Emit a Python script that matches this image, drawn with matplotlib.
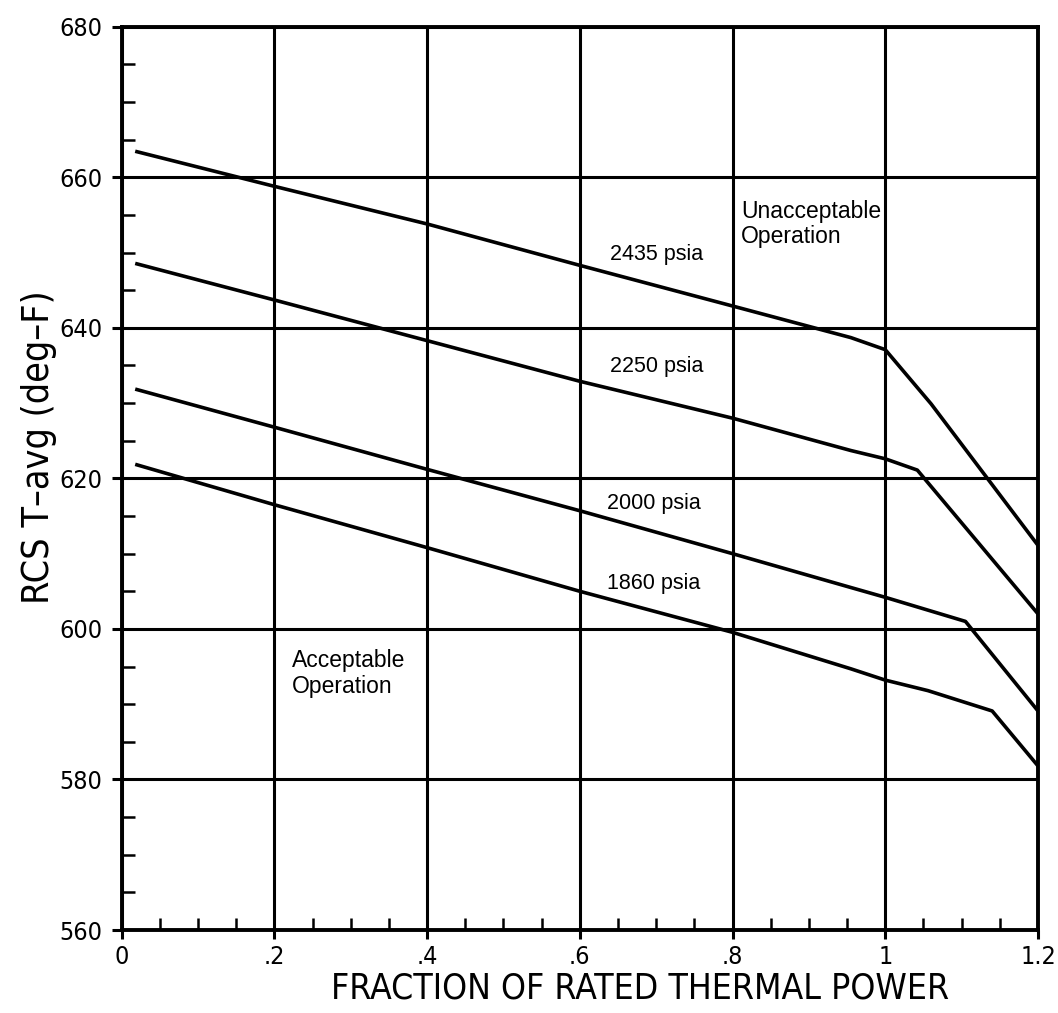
import matplotlib
matplotlib.use("Agg")
import numpy as np
from matplotlib import pyplot as plt
from matplotlib.ticker import MultipleLocator, FuncFormatter

# curves: fraction of rated power vs T-avg (deg F)
x_2435 = [0.02, 0.2, 0.4, 0.6, 0.8, 0.955, 1.0, 1.06, 1.2]
y_2435 = [663.4, 658.8, 653.8, 648.3, 642.9, 638.7, 637.1, 629.9, 611.1]

x_2250 = [0.02, 0.2, 0.4, 0.6, 0.8, 0.955, 1.0, 1.042, 1.2]
y_2250 = [648.5, 643.7, 638.3, 632.9, 628.0, 623.7, 622.6, 621.1, 602.0]

x_2000 = [0.02, 0.2, 0.4, 0.6, 0.8, 0.955, 1.0, 1.105, 1.2]
y_2000 = [631.8, 626.8, 621.2, 615.7, 610.0, 605.5, 604.2, 601.0, 589.1]

x_1860 = [0.02, 0.2, 0.4, 0.6, 0.8, 0.955, 1.0, 1.056, 1.14, 1.2]
y_1860 = [621.8, 616.5, 610.8, 605.0, 599.55, 594.7, 593.2, 591.8, 589.1, 581.8]

curve_labels = ['2435 psia', '2250 psia', '2000 psia', '1860 psia']
label_x = [0.70, 0.70, 0.697, 0.696]
label_y = [649.7, 634.8, 616.6, 606.0]

cond = ['DejaVu Sans']
plain = ['Liberation Sans', 'DejaVu Sans']

fig = plt.figure(figsize=(10.58, 10.13), dpi=100)
ax = fig.add_axes([0.115, 0.0819, 0.8661, 0.8917])

for xs, ys in [(x_2435, y_2435), (x_2250, y_2250), (x_2000, y_2000), (x_1860, y_1860)]:
    ax.plot(xs, ys, color='black', lw=2.6, solid_joinstyle='round', zorder=3)

ax.set_xlim(0, 1.2)
ax.set_ylim(560, 680)

ax.xaxis.set_major_locator(MultipleLocator(0.2))
ax.xaxis.set_minor_locator(MultipleLocator(0.05))
ax.yaxis.set_major_locator(MultipleLocator(20))
ax.yaxis.set_minor_locator(MultipleLocator(5))


def frac_fmt(v, pos):
    s = '%g' % round(v, 2)
    if s.startswith('0.'):
        s = s[1:]
    return s


ax.xaxis.set_major_formatter(FuncFormatter(frac_fmt))

ax.grid(True, which='major', color='black', lw=2.2)
ax.tick_params(axis='x', which='major', direction='out', length=6.5, width=2.2, pad=4)
ax.tick_params(axis='y', which='major', direction='out', length=7, width=2.2, pad=7)
ax.tick_params(which='minor', direction='in', length=9, width=1.8)
for lab in ax.get_xticklabels() + ax.get_yticklabels():
    lab.set_family(cond)
    lab.set_stretch('condensed')
    lab.set_fontsize(18)

for side in ['left', 'bottom', 'top', 'right']:
    ax.spines[side].set_linewidth(2.8)

ax.set_xlabel('FRACTION OF RATED THERMAL POWER', family=cond, stretch='condensed',
              fontsize=25.5)
ax.xaxis.label.set_verticalalignment('top')
ax.xaxis.set_label_coords(0.566, -0.046)
ax.set_ylabel('RCS T\u2013avg (deg\u2013F)', family=cond, stretch='condensed', fontsize=27)
ax.yaxis.label.set_verticalalignment('center')
ax.yaxis.set_label_coords(-0.09, 0.535)

for t, lx, ly in zip(curve_labels, label_x, label_y):
    ax.text(lx, ly, t, family=plain, fontsize=15.5, ha='center', va='center')

ax.text(0.811, 653.8, 'Unacceptable\nOperation', family=plain, fontsize=16.5,
        ha='left', va='center', linespacing=1.15)
ax.text(0.223, 594.1, 'Acceptable\nOperation', family=plain, fontsize=16.5,
        ha='left', va='center', linespacing=1.15)

fig.savefig('out.png', dpi=100)
